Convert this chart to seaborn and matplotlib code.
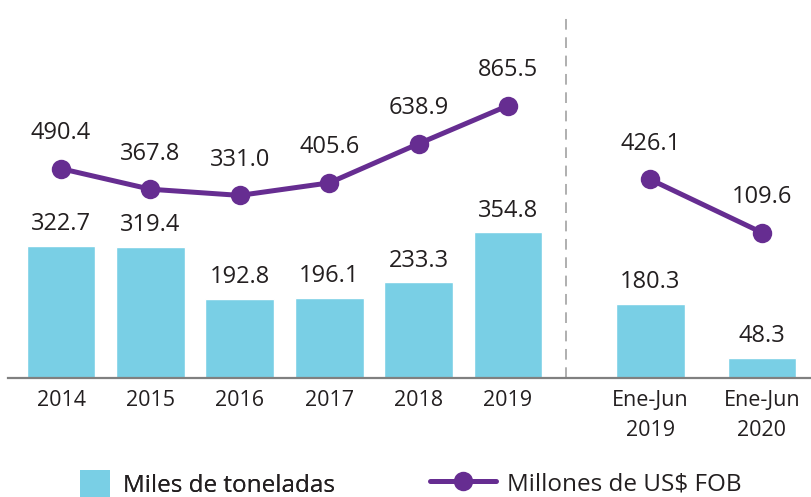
import matplotlib
matplotlib.use("Agg")
import matplotlib.pyplot as plt
from matplotlib.patches import Patch
from matplotlib.lines import Line2D
import seaborn as sns
import pandas as pd

# ---- data ----
categories = ["2014", "2015", "2016", "2017", "2018", "2019", "Ene-Jun\n2019", "Ene-Jun\n2020"]
toneladas = [322.7, 319.4, 192.8, 196.1, 233.3, 354.8, 180.3, 48.3]   # Miles de toneladas
fob = [490.4, 367.8, 331.0, 405.6, 638.9, 865.5, 426.1, 109.6]        # Millones de US$ FOB
grupo = ["anual"] * 6 + ["semestre"] * 2

# ---- layout ----
positions = [0, 1, 2, 3, 4, 5, 6.59, 7.84]
divider_x = 5.65

BAR_COLOR = "#79CFE5"
LINE_COLOR = "#662D91"
TEXT_COLOR = "#231F20"

sns.set_theme(style="white")
plt.rcParams["font.family"] = ["Open Sans", "DejaVu Sans"]

df = pd.DataFrame({"pos": positions, "cat": categories, "ton": toneladas,
                   "fob": fob, "grupo": grupo})

fig = plt.figure(figsize=(8.12, 4.97), dpi=100)
ax = fig.add_axes([8 / 812, 119 / 497, 804 / 812, 363 / 497])

sns.barplot(data=df, x="pos", y="ton", native_scale=True, width=0.77,
            color=BAR_COLOR, saturation=1, ax=ax, zorder=2)
ax.set_xlim(-0.593, 8.40)
ax.set_ylim(0, 885)

for x, v in zip(positions, toneladas):
    ax.annotate(f"{v:.1f}", (x, v), xytext=(0, 7), textcoords="offset points",
                ha="center", va="bottom", fontsize=17, color=TEXT_COLOR)

ax.axvline(divider_x, color="#9a9a9a", lw=1.1, ls=(0, (7, 5)), zorder=1)

for s in ["top", "right", "left"]:
    ax.spines[s].set_visible(False)
ax.spines["bottom"].set_color("#808080")
ax.spines["bottom"].set_linewidth(1.6)
ax.set_yticks([])
ax.set_xticks(positions)
ax.set_xticklabels(categories, fontsize=15.5, color=TEXT_COLOR, linespacing=1.55)
ax.tick_params(axis="x", length=0, pad=9)
ax.set_xlabel("")
ax.set_ylabel("")

ax2 = ax.twinx()
sns.lineplot(data=df, x="pos", y="fob", units="grupo", estimator=None,
             color=LINE_COLOR, lw=3.6, marker="o", markersize=14,
             markeredgewidth=0, ax=ax2, legend=False, zorder=3)
ax2.set_ylim(-756, 1405)
ax2.set_xlim(-0.593, 8.40)
ax2.set_yticks([])
ax2.set_ylabel("")
for s in ax2.spines.values():
    s.set_visible(False)

for x, v in zip(positions, fob):
    ax2.annotate(f"{v:.1f}", (x, v), xytext=(0, 17), textcoords="offset points",
                 ha="center", va="bottom", fontsize=17, color=TEXT_COLOR)

leg1 = fig.legend(handles=[Patch(facecolor=BAR_COLOR, edgecolor="none")],
                  labels=["Miles de toneladas"], loc="center left",
                  bbox_to_anchor=(80 / 812, 13 / 497), frameon=False,
                  fontsize=17.5, handlelength=1.25, handleheight=1.35,
                  handletextpad=0.5, borderpad=0, borderaxespad=0,
                  labelcolor=TEXT_COLOR)
leg2 = fig.legend(handles=[Line2D([0], [0], color=LINE_COLOR, lw=3.6, marker="o",
                                  markersize=14, markeredgewidth=0)],
                  labels=["Millones de US$ FOB"], loc="center left",
                  bbox_to_anchor=(430 / 812, 13 / 497), frameon=False,
                  fontsize=17.5, handlelength=2.7, handletextpad=0.45,
                  borderpad=0, borderaxespad=0, labelcolor=TEXT_COLOR)
fig.add_artist(leg1)

fig.savefig("out.png", dpi=100)
